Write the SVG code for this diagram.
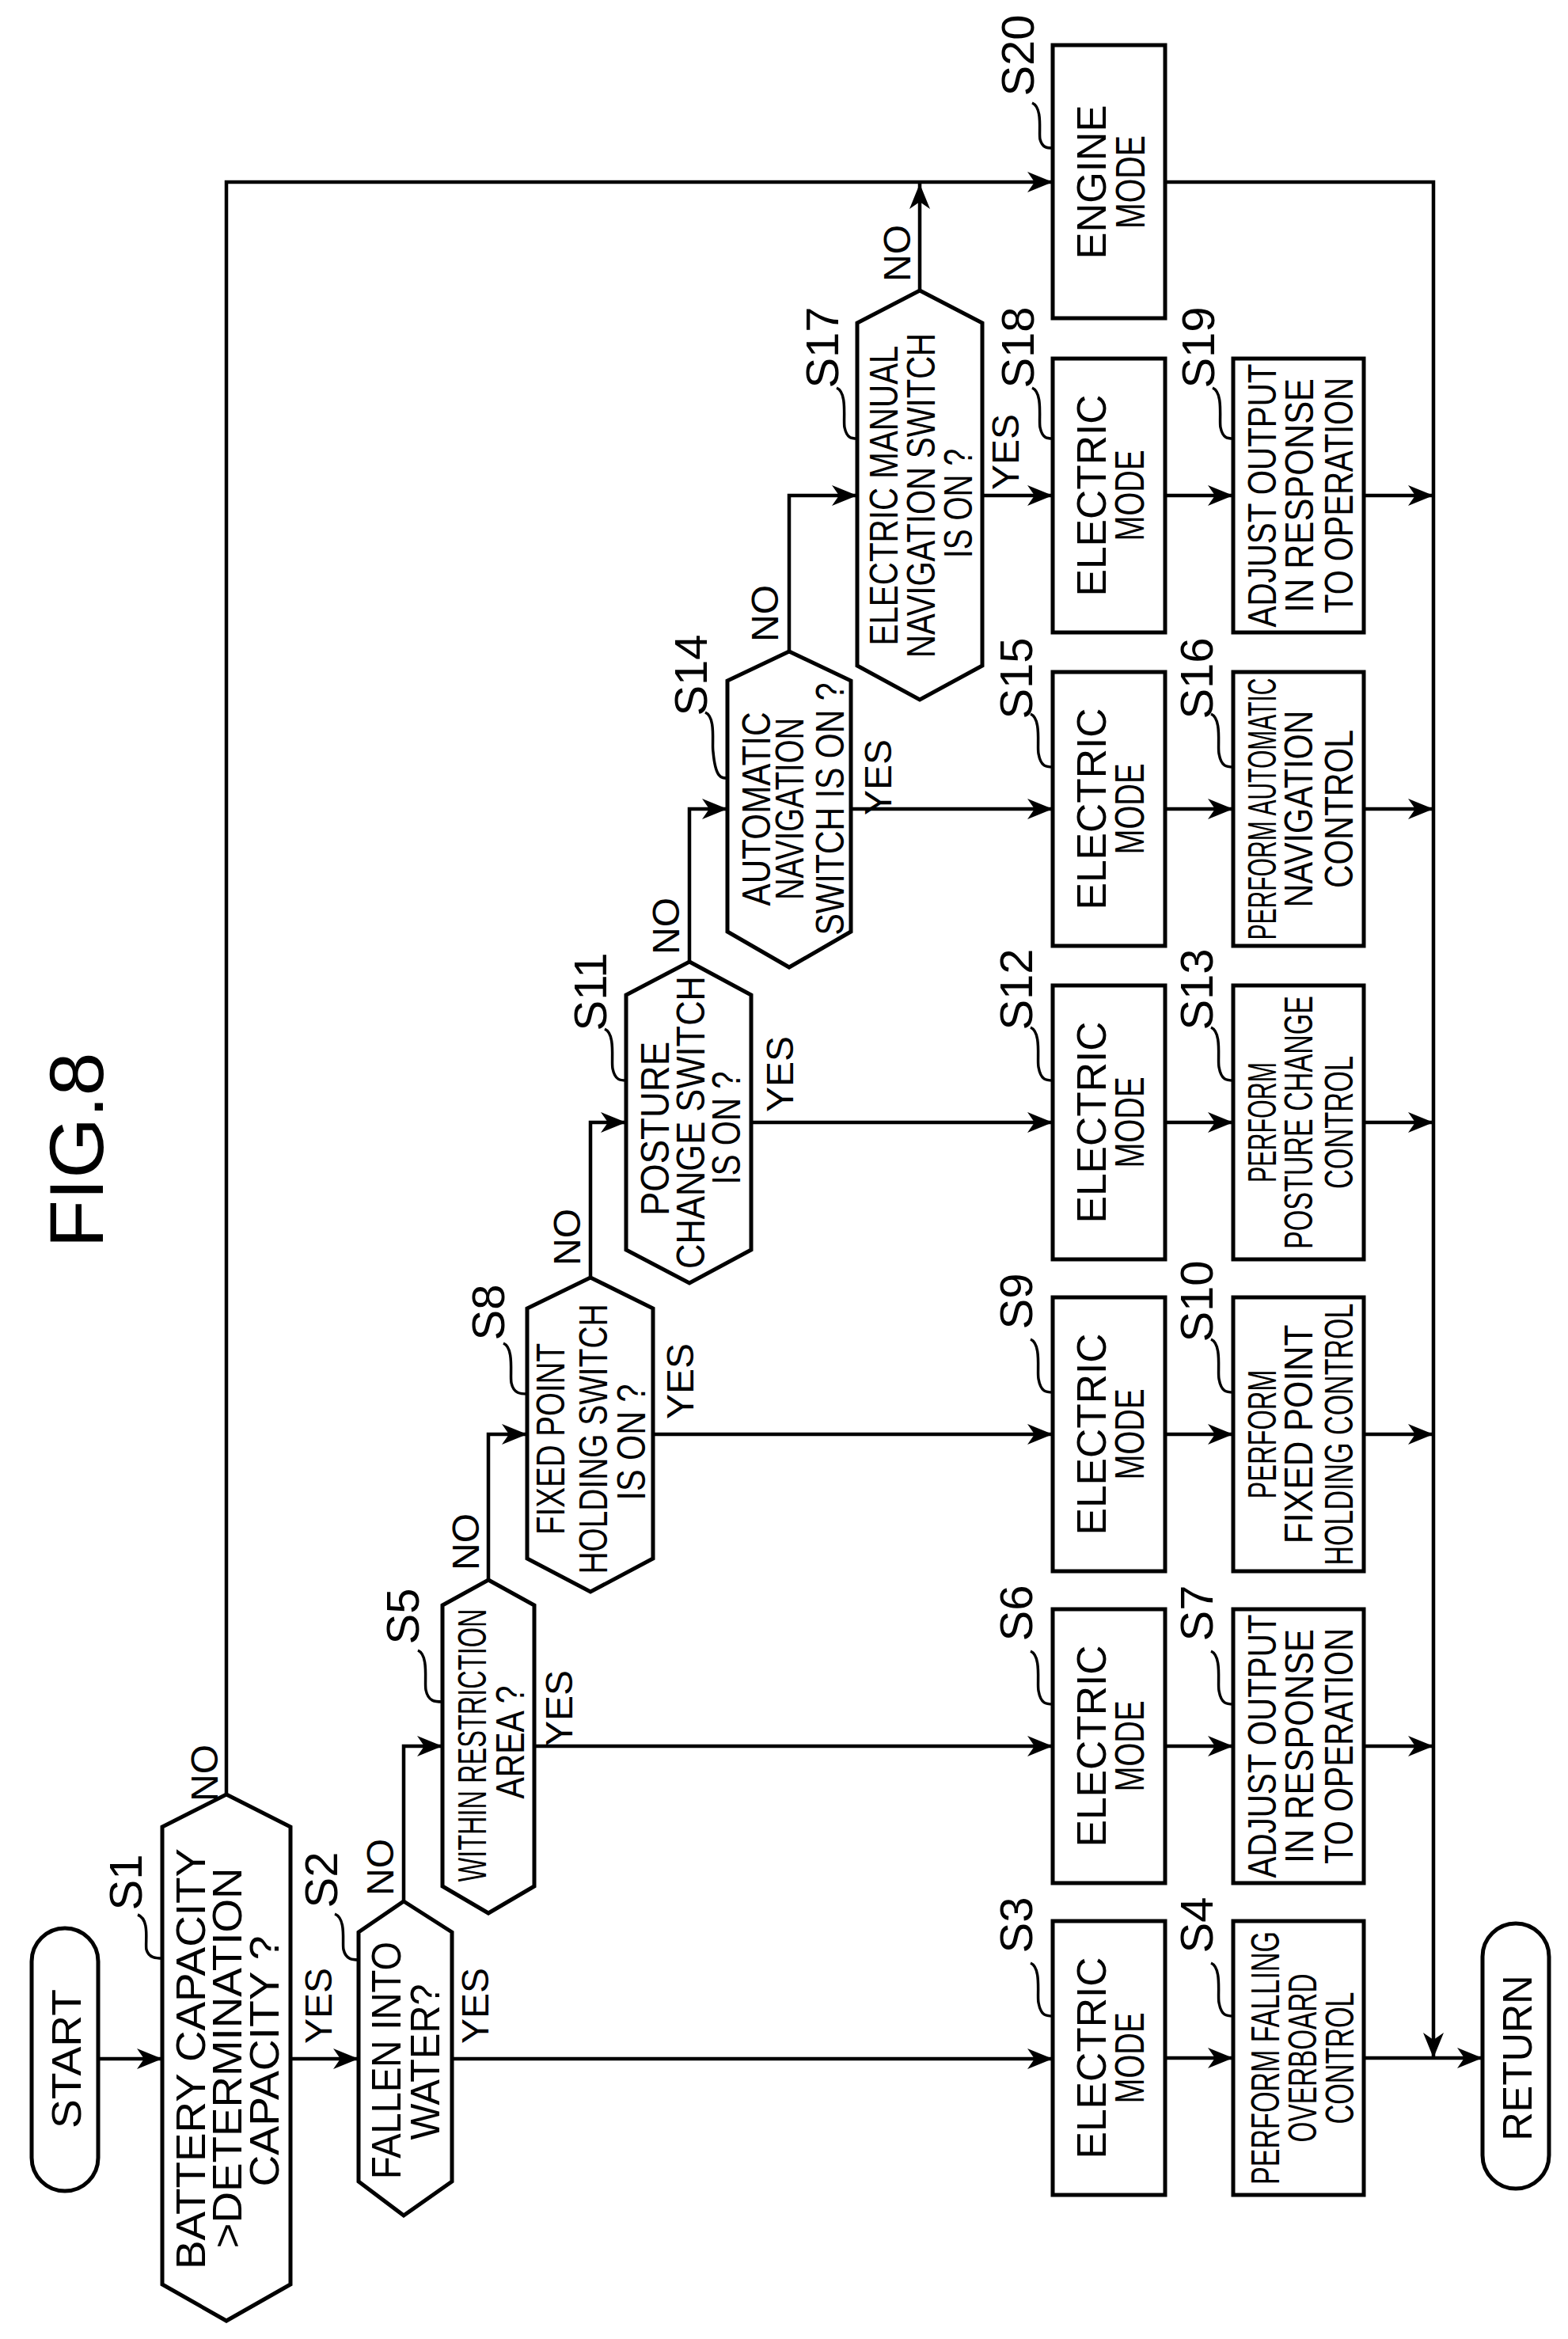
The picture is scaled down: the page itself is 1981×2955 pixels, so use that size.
<svg xmlns="http://www.w3.org/2000/svg" width="1981" height="2955" viewBox="0 0 1981 2955">
<style>
.s{fill:none;stroke:#000;stroke-width:5;stroke-linejoin:miter}
.c{fill:none;stroke:#000;stroke-width:4.5}
.l{fill:none;stroke:#000;stroke-width:3.5}
text{font-family:"Liberation Sans",Arial,sans-serif;fill:#000;text-anchor:middle}
.t{font-size:52px}
.a{font-size:50px}
.y{font-size:48px}
.n{font-size:58px}
</style>
<defs>
<marker id="ah" markerUnits="userSpaceOnUse" markerWidth="34" markerHeight="26" refX="32" refY="13" orient="auto">
<path d="M0,0 L32,13 L0,26 L9,13 Z" fill="#000"/>
</marker>
</defs>
<rect width="1981" height="2955" fill="#fff"/>
<text x="130" y="1453" transform="rotate(-90 130 1453)" font-size="96" textLength="247" lengthAdjust="spacingAndGlyphs">FIG.8</text>

<g id="connectors" class="c">
<path d="M124 2601 H205" marker-end="url(#ah)"/>
<path d="M367 2601 H453" marker-end="url(#ah)"/>
<path d="M571 2601 H1330" marker-end="url(#ah)"/>
<path d="M286 2267 V230 H1330" marker-end="url(#ah)"/>
<path d="M510 2402 V2206 H559" marker-end="url(#ah)"/>
<path d="M675 2206 H1330" marker-end="url(#ah)"/>
<path d="M617 1996 V1812 H666" marker-end="url(#ah)"/>
<path d="M825 1812 H1330" marker-end="url(#ah)"/>
<path d="M746 1614 V1418 H791" marker-end="url(#ah)"/>
<path d="M949 1418 H1330" marker-end="url(#ah)"/>
<path d="M871 1215 V1022 H919" marker-end="url(#ah)"/>
<path d="M1075 1022 H1330" marker-end="url(#ah)"/>
<path d="M997 823 V626 H1083" marker-end="url(#ah)"/>
<path d="M1241 626 H1330" marker-end="url(#ah)"/>
<path d="M1162 367 V232" marker-end="url(#ah)"/>
<path d="M1472 626 H1558" marker-end="url(#ah)"/>
<path d="M1472 1022 H1558" marker-end="url(#ah)"/>
<path d="M1472 1418 H1558" marker-end="url(#ah)"/>
<path d="M1472 1812 H1558" marker-end="url(#ah)"/>
<path d="M1472 2206 H1558" marker-end="url(#ah)"/>
<path d="M1472 2600 H1558" marker-end="url(#ah)"/>
<path d="M1723 626 H1811" marker-end="url(#ah)"/>
<path d="M1723 1022 H1811" marker-end="url(#ah)"/>
<path d="M1723 1418 H1811" marker-end="url(#ah)"/>
<path d="M1723 1812 H1811" marker-end="url(#ah)"/>
<path d="M1723 2206 H1811" marker-end="url(#ah)"/>
<path d="M1472 230 H1811 V2600" marker-end="url(#ah)"/>
<path d="M1723 2600 H1873" marker-end="url(#ah)"/>
</g>

<g id="branch-labels" class="y">
<text x="275" y="2240" transform="rotate(-90 275 2240)">NO</text>
<text x="419" y="2534" transform="rotate(-90 419 2534)">YES</text>
<text x="497" y="2359" transform="rotate(-90 497 2359)">NO</text>
<text x="617" y="2534" transform="rotate(-90 617 2534)">YES</text>
<text x="605" y="1948" transform="rotate(-90 605 1948)">NO</text>
<text x="723" y="2158" transform="rotate(-90 723 2158)">YES</text>
<text x="733" y="1563" transform="rotate(-90 733 1563)">NO</text>
<text x="876" y="1745" transform="rotate(-90 876 1745)">YES</text>
<text x="858" y="1170" transform="rotate(-90 858 1170)">NO</text>
<text x="1002" y="1357" transform="rotate(-90 1002 1357)">YES</text>
<text x="983" y="775" transform="rotate(-90 983 775)">NO</text>
<text x="1126" y="982" transform="rotate(-90 1126 982)">YES</text>
<text x="1150" y="320" transform="rotate(-90 1150 320)">NO</text>
<text x="1287" y="571" transform="rotate(-90 1287 571)">YES</text>
</g>

<g id="start">
<rect class="s" x="40" y="2436" width="84" height="332" rx="42"/>
<text class="t" x="102" y="2601" transform="rotate(-90 102 2601)" textLength="176" lengthAdjust="spacingAndGlyphs">START</text>
</g>

<g id="S1">
<path class="s" d="M286 2267 L367 2308 L367 2886 L286 2932 L205 2886 L205 2308 Z"/>
<text class="t" x="259" y="2601" transform="rotate(-90 259 2601)" textLength="532" lengthAdjust="spacingAndGlyphs">BATTERY CAPACITY</text>
<text class="t" x="305" y="2600" transform="rotate(-90 305 2600)" textLength="481" lengthAdjust="spacingAndGlyphs">&gt;DETERMINATION</text>
<text class="t" x="352" y="2604" transform="rotate(-90 352 2604)" textLength="317" lengthAdjust="spacingAndGlyphs">CAPACITY ?</text>
<text class="n" x="179" y="2378" transform="rotate(-90 179 2378)">S1</text>
<path class="l" d="M174 2419 C190 2425 183 2455 185 2463 C188 2474 198 2474 205 2474"/>
</g>

<g id="S2">
<path class="s" d="M510 2402 L571 2441 L571 2756 L510 2799 L453 2756 L453 2441 Z"/>
<text class="t" x="506" y="2603" transform="rotate(-90 506 2603)" textLength="300" lengthAdjust="spacingAndGlyphs">FALLEN INTO</text>
<text class="t" x="555" y="2605" transform="rotate(-90 555 2605)" textLength="197" lengthAdjust="spacingAndGlyphs">WATER?</text>
<text class="n" x="426" y="2375" transform="rotate(-90 426 2375)">S2</text>
<path class="l" d="M423 2418 C438 2424 432 2455 434 2463 C437 2476 446 2476 453 2476"/>
</g>

<g id="S3">
<rect class="s" x="1330" y="2427" width="142" height="346"/>
<text class="t" x="1397" y="2600" transform="rotate(-90 1397 2600)" textLength="255" lengthAdjust="spacingAndGlyphs">ELECTRIC</text>
<text class="t" x="1445" y="2600" transform="rotate(-90 1445 2600)" textLength="115" lengthAdjust="spacingAndGlyphs">MODE</text>
<text class="n" x="1304" y="2432" transform="rotate(-90 1304 2432)">S3</text>
<path class="l" d="M1302 2480 C1316 2486 1310 2520 1312 2530 C1315 2547 1322 2547 1330 2547"/>
</g>

<g id="S4">
<rect class="s" x="1558" y="2427" width="165" height="346"/>
<text class="a" x="1616" y="2600" transform="rotate(-90 1616 2600)" textLength="320" lengthAdjust="spacingAndGlyphs">PERFORM FALLING</text>
<text class="a" x="1663" y="2600" transform="rotate(-90 1663 2600)" textLength="213" lengthAdjust="spacingAndGlyphs">OVERBOARD</text>
<text class="a" x="1710" y="2600" transform="rotate(-90 1710 2600)" textLength="167" lengthAdjust="spacingAndGlyphs">CONTROL</text>
<text class="n" x="1532" y="2432" transform="rotate(-90 1532 2432)">S4</text>
<path class="l" d="M1530 2480 C1544 2486 1538 2520 1540 2530 C1543 2547 1550 2547 1558 2547"/>
</g>

<g id="S5">
<path class="s" d="M617 1996 L675 2028 L675 2383 L617 2417 L559 2383 L559 2028 Z"/>
<text class="a" x="614" y="2205" transform="rotate(-90 614 2205)" textLength="345" lengthAdjust="spacingAndGlyphs">WITHIN RESTRICTION</text>
<text class="a" x="662" y="2201" transform="rotate(-90 662 2201)" textLength="143" lengthAdjust="spacingAndGlyphs">AREA ?</text>
<text class="n" x="529" y="2042" transform="rotate(-90 529 2042)">S5</text>
<path class="l" d="M528 2085 C542 2091 536 2125 538 2135 C541 2150 550 2150 559 2150"/>
</g>

<g id="S6">
<rect class="s" x="1330" y="2033" width="142" height="346"/>
<text class="t" x="1397" y="2206" transform="rotate(-90 1397 2206)" textLength="255" lengthAdjust="spacingAndGlyphs">ELECTRIC</text>
<text class="t" x="1445" y="2206" transform="rotate(-90 1445 2206)" textLength="115" lengthAdjust="spacingAndGlyphs">MODE</text>
<text class="n" x="1304" y="2038" transform="rotate(-90 1304 2038)">S6</text>
<path class="l" d="M1302 2086 C1316 2092 1310 2126 1312 2136 C1315 2153 1322 2153 1330 2153"/>
</g>

<g id="S7">
<rect class="s" x="1558" y="2033" width="165" height="346"/>
<text class="a" x="1612" y="2206" transform="rotate(-90 1612 2206)" textLength="333" lengthAdjust="spacingAndGlyphs">ADJUST OUTPUT</text>
<text class="a" x="1659" y="2206" transform="rotate(-90 1659 2206)" textLength="296" lengthAdjust="spacingAndGlyphs">IN RESPONSE</text>
<text class="a" x="1709" y="2206" transform="rotate(-90 1709 2206)" textLength="298" lengthAdjust="spacingAndGlyphs">TO OPERATION</text>
<text class="n" x="1532" y="2038" transform="rotate(-90 1532 2038)">S7</text>
<path class="l" d="M1530 2086 C1544 2092 1538 2126 1540 2136 C1543 2153 1550 2153 1558 2153"/>
</g>

<g id="S8">
<path class="s" d="M746 1614 L825 1653 L825 1969 L746 2011 L666 1969 L666 1653 Z"/>
<text class="a" x="713" y="1818" transform="rotate(-90 713 1818)" textLength="242" lengthAdjust="spacingAndGlyphs">FIXED POINT</text>
<text class="a" x="767" y="1818" transform="rotate(-90 767 1818)" textLength="341" lengthAdjust="spacingAndGlyphs">HOLDING SWITCH</text>
<text class="a" x="815" y="1822" transform="rotate(-90 815 1822)" textLength="147" lengthAdjust="spacingAndGlyphs">IS ON ?</text>
<text class="n" x="637" y="1658" transform="rotate(-90 637 1658)">S8</text>
<path class="l" d="M636 1697 C650 1703 644 1737 646 1747 C649 1761 658 1761 666 1761"/>
</g>

<g id="S9">
<rect class="s" x="1330" y="1639" width="142" height="346"/>
<text class="t" x="1397" y="1812" transform="rotate(-90 1397 1812)" textLength="255" lengthAdjust="spacingAndGlyphs">ELECTRIC</text>
<text class="t" x="1445" y="1812" transform="rotate(-90 1445 1812)" textLength="115" lengthAdjust="spacingAndGlyphs">MODE</text>
<text class="n" x="1304" y="1644" transform="rotate(-90 1304 1644)">S9</text>
<path class="l" d="M1302 1692 C1316 1698 1310 1732 1312 1742 C1315 1759 1322 1759 1330 1759"/>
</g>

<g id="S10">
<rect class="s" x="1558" y="1639" width="165" height="346"/>
<text class="a" x="1612" y="1812" transform="rotate(-90 1612 1812)" textLength="163" lengthAdjust="spacingAndGlyphs">PERFORM</text>
<text class="a" x="1658" y="1812" transform="rotate(-90 1658 1812)" textLength="277" lengthAdjust="spacingAndGlyphs">FIXED POINT</text>
<text class="a" x="1709" y="1812" transform="rotate(-90 1709 1812)" textLength="331" lengthAdjust="spacingAndGlyphs">HOLDING CONTROL</text>
<text class="n" x="1532" y="1644" transform="rotate(-90 1532 1644)">S10</text>
<path class="l" d="M1530 1692 C1544 1698 1538 1732 1540 1742 C1543 1759 1550 1759 1558 1759"/>
</g>

<g id="S11">
<path class="s" d="M871 1215 L949 1257 L949 1579 L871 1621 L791 1579 L791 1257 Z"/>
<text class="a" x="845" y="1426" transform="rotate(-90 845 1426)" textLength="220" lengthAdjust="spacingAndGlyphs">POSTURE</text>
<text class="a" x="890" y="1418" transform="rotate(-90 890 1418)" textLength="370" lengthAdjust="spacingAndGlyphs">CHANGE SWITCH</text>
<text class="a" x="935" y="1425" transform="rotate(-90 935 1425)" textLength="143" lengthAdjust="spacingAndGlyphs">IS ON ?</text>
<text class="n" x="766" y="1253" transform="rotate(-90 766 1253)">S11</text>
<path class="l" d="M764 1300 C778 1306 772 1340 774 1350 C777 1365 784 1365 791 1365"/>
</g>

<g id="S12">
<rect class="s" x="1330" y="1245" width="142" height="346"/>
<text class="t" x="1397" y="1418" transform="rotate(-90 1397 1418)" textLength="255" lengthAdjust="spacingAndGlyphs">ELECTRIC</text>
<text class="t" x="1445" y="1418" transform="rotate(-90 1445 1418)" textLength="115" lengthAdjust="spacingAndGlyphs">MODE</text>
<text class="n" x="1304" y="1250" transform="rotate(-90 1304 1250)">S12</text>
<path class="l" d="M1302 1298 C1316 1304 1310 1338 1312 1348 C1315 1365 1322 1365 1330 1365"/>
</g>

<g id="S13">
<rect class="s" x="1558" y="1245" width="165" height="346"/>
<text class="a" x="1612" y="1418" transform="rotate(-90 1612 1418)" textLength="152" lengthAdjust="spacingAndGlyphs">PERFORM</text>
<text class="a" x="1658" y="1418" transform="rotate(-90 1658 1418)" textLength="320" lengthAdjust="spacingAndGlyphs">POSTURE CHANGE</text>
<text class="a" x="1709" y="1418" transform="rotate(-90 1709 1418)" textLength="168" lengthAdjust="spacingAndGlyphs">CONTROL</text>
<text class="n" x="1532" y="1250" transform="rotate(-90 1532 1250)">S13</text>
<path class="l" d="M1530 1298 C1544 1304 1538 1338 1540 1348 C1543 1365 1550 1365 1558 1365"/>
</g>

<g id="S14">
<path class="s" d="M997 823 L1075 860 L1075 1177 L997 1222 L919 1177 L919 860 Z"/>
<text class="a" x="973" y="1022" transform="rotate(-90 973 1022)" textLength="245" lengthAdjust="spacingAndGlyphs">AUTOMATIC</text>
<text class="a" x="1015" y="1022" transform="rotate(-90 1015 1022)" textLength="230" lengthAdjust="spacingAndGlyphs">NAVIGATION</text>
<text class="a" x="1066" y="1022" transform="rotate(-90 1066 1022)" textLength="319" lengthAdjust="spacingAndGlyphs">SWITCH IS ON ?</text>
<text class="n" x="893" y="853" transform="rotate(-90 893 853)">S14</text>
<path class="l" d="M891 900 C905 906 899 940 901 950 C904 983 911 983 919 983"/>
</g>

<g id="S15">
<rect class="s" x="1330" y="849" width="142" height="346"/>
<text class="t" x="1397" y="1022" transform="rotate(-90 1397 1022)" textLength="255" lengthAdjust="spacingAndGlyphs">ELECTRIC</text>
<text class="t" x="1445" y="1022" transform="rotate(-90 1445 1022)" textLength="115" lengthAdjust="spacingAndGlyphs">MODE</text>
<text class="n" x="1304" y="857" transform="rotate(-90 1304 857)">S15</text>
<path class="l" d="M1302 902 C1316 908 1310 942 1312 952 C1315 969 1322 969 1330 969"/>
</g>

<g id="S16">
<rect class="s" x="1558" y="849" width="165" height="346"/>
<text class="a" x="1612" y="1022" transform="rotate(-90 1612 1022)" textLength="331" lengthAdjust="spacingAndGlyphs">PERFORM AUTOMATIC</text>
<text class="a" x="1658" y="1022" transform="rotate(-90 1658 1022)" textLength="249" lengthAdjust="spacingAndGlyphs">NAVIGATION</text>
<text class="a" x="1709" y="1022" transform="rotate(-90 1709 1022)" textLength="200" lengthAdjust="spacingAndGlyphs">CONTROL</text>
<text class="n" x="1532" y="857" transform="rotate(-90 1532 857)">S16</text>
<path class="l" d="M1530 902 C1544 908 1538 942 1540 952 C1543 969 1550 969 1558 969"/>
</g>

<g id="S17">
<path class="s" d="M1162 367 L1241 408 L1241 841 L1162 884 L1083 841 L1083 408 Z"/>
<text class="a" x="1134" y="626" transform="rotate(-90 1134 626)" textLength="379" lengthAdjust="spacingAndGlyphs">ELECTRIC MANUAL</text>
<text class="a" x="1181" y="626" transform="rotate(-90 1181 626)" textLength="410" lengthAdjust="spacingAndGlyphs">NAVIGATION SWITCH</text>
<text class="a" x="1228" y="636" transform="rotate(-90 1228 636)" textLength="138" lengthAdjust="spacingAndGlyphs">IS ON ?</text>
<text class="n" x="1059" y="439" transform="rotate(-90 1059 439)">S17</text>
<path class="l" d="M1057 490 C1071 496 1065 530 1067 540 C1070 554 1076 554 1083 554"/>
</g>

<g id="S18">
<rect class="s" x="1330" y="453" width="142" height="346"/>
<text class="t" x="1397" y="626" transform="rotate(-90 1397 626)" textLength="255" lengthAdjust="spacingAndGlyphs">ELECTRIC</text>
<text class="t" x="1445" y="626" transform="rotate(-90 1445 626)" textLength="115" lengthAdjust="spacingAndGlyphs">MODE</text>
<text class="n" x="1306" y="439" transform="rotate(-90 1306 439)">S18</text>
<path class="l" d="M1304 490 C1318 496 1312 530 1314 540 C1317 554 1323 554 1330 554"/>
</g>

<g id="S19">
<rect class="s" x="1558" y="453" width="165" height="346"/>
<text class="a" x="1612" y="626" transform="rotate(-90 1612 626)" textLength="333" lengthAdjust="spacingAndGlyphs">ADJUST OUTPUT</text>
<text class="a" x="1659" y="626" transform="rotate(-90 1659 626)" textLength="296" lengthAdjust="spacingAndGlyphs">IN RESPONSE</text>
<text class="a" x="1709" y="626" transform="rotate(-90 1709 626)" textLength="298" lengthAdjust="spacingAndGlyphs">TO OPERATION</text>
<text class="n" x="1534" y="439" transform="rotate(-90 1534 439)">S19</text>
<path class="l" d="M1532 490 C1546 496 1540 530 1542 540 C1545 554 1551 554 1558 554"/>
</g>

<g id="S20">
<rect class="s" x="1330" y="57" width="142" height="345"/>
<text class="t" x="1397" y="230" transform="rotate(-90 1397 230)" textLength="195" lengthAdjust="spacingAndGlyphs">ENGINE</text>
<text class="t" x="1446" y="230" transform="rotate(-90 1446 230)" textLength="118" lengthAdjust="spacingAndGlyphs">MODE</text>
<text class="n" x="1306" y="70" transform="rotate(-90 1306 70)">S20</text>
<path class="l" d="M1304 130 C1318 136 1312 168 1314 176 C1317 187 1323 187 1330 187"/>
</g>

<g id="return">
<rect class="s" x="1873" y="2430" width="84" height="335" rx="42"/>
<text class="t" x="1935" y="2600" transform="rotate(-90 1935 2600)" textLength="209" lengthAdjust="spacingAndGlyphs">RETURN</text>
</g>
</svg>
